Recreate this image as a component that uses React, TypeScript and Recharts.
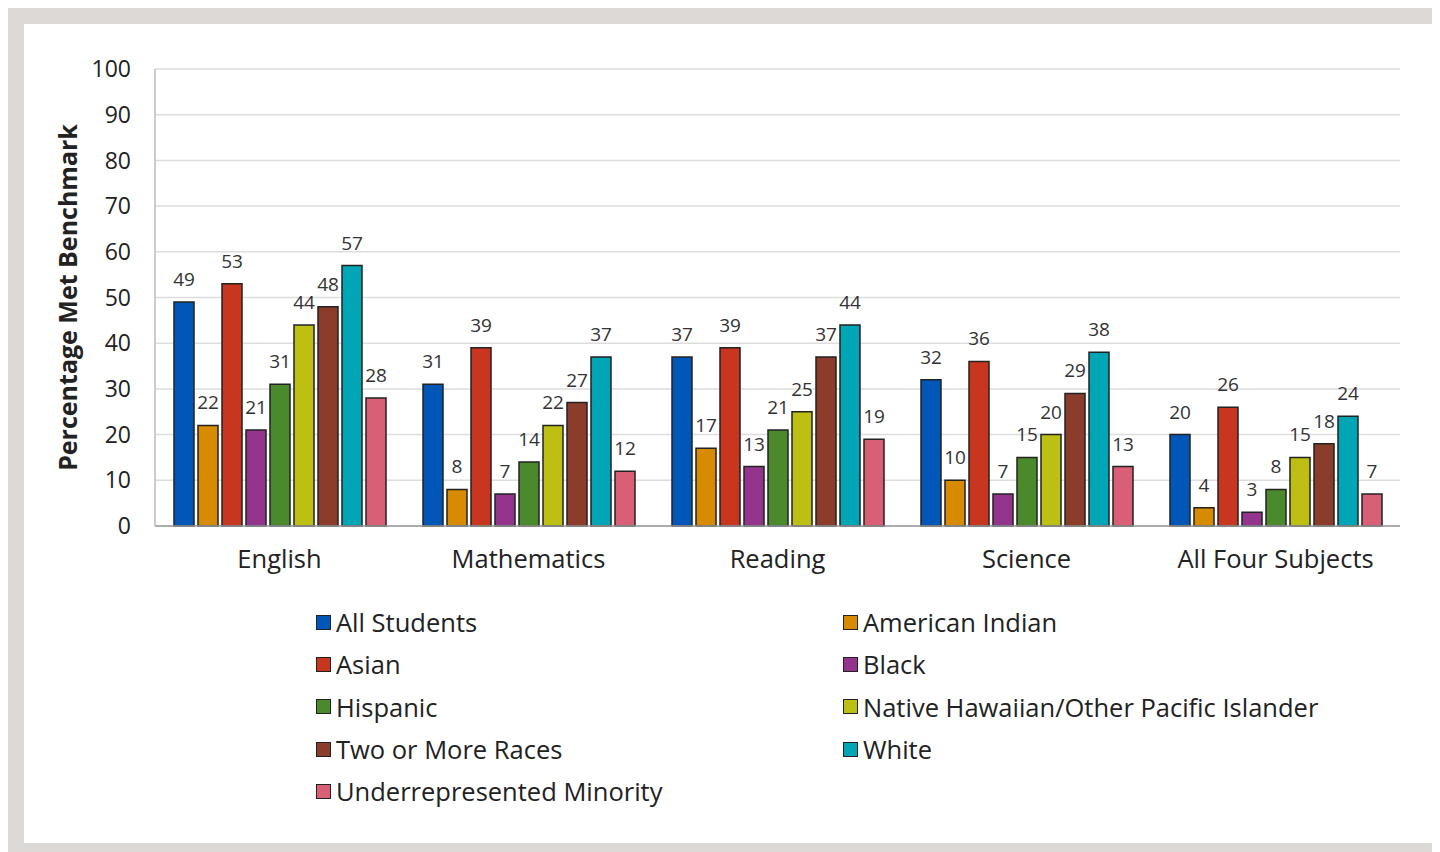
import React from "react";
import { BarChart, Bar, XAxis, YAxis, CartesianGrid, LabelList } from "recharts";

const categories = ["English", "Mathematics", "Reading", "Science", "All Four Subjects"];
const seriesNames = [
  "All Students",
  "American Indian",
  "Asian",
  "Black",
  "Hispanic",
  "Native Hawaiian/Other Pacific Islander",
  "Two or More Races",
  "White",
  "Underrepresented Minority",
];
const seriesColors = [
  "#0057b8",
  "#d68b00",
  "#c9361f",
  "#93358d",
  "#4b8a2c",
  "#bdbf13",
  "#8c3c2b",
  "#00a6b6",
  "#d95f76",
];
const allStudents = [49, 31, 37, 32, 20];
const americanIndian = [22, 8, 17, 10, 4];
const asian = [53, 39, 39, 36, 26];
const black = [21, 7, 13, 7, 3];
const hispanic = [31, 14, 21, 15, 8];
const nativeHawaiian = [44, 22, 25, 20, 15];
const twoOrMore = [48, 27, 37, 29, 18];
const white = [57, 37, 44, 38, 24];
const underrepresented = [28, 12, 19, 13, 7];
const yTicks = [0, 10, 20, 30, 40, 50, 60, 70, 80, 90, 100];

const seriesValues = [
  allStudents,
  americanIndian,
  asian,
  black,
  hispanic,
  nativeHawaiian,
  twoOrMore,
  white,
  underrepresented,
];

const data = categories.map((c, i) => {
  const row: Record<string, string | number> = { category: c };
  seriesValues.forEach((vals, s) => {
    row["s" + s] = vals[i];
  });
  return row;
});

const FONT = "'Open Sans', 'Noto Sans', sans-serif";

const YLabel = (props: any) => {
  const vb = props.viewBox || {};
  const cx = 43;
  const cy = (vb.y ?? 0) + (vb.height ?? 0) / 2;
  return (
    <text
      x={cx}
      y={cy}
      transform={`rotate(-90, ${cx}, ${cy})`}
      textAnchor="middle"
      dominantBaseline="central"
      fontSize={25}
      fontWeight={700}
      fill="#222"
      fontFamily={FONT}
    >
      Percentage Met Benchmark
    </text>
  );
};

export default function App() {
  return (
    <div
      style={{
        position: "relative",
        width: 1432,
        height: 844,
        background: "#dcd9d6",
        fontFamily: FONT,
      }}
    >
      <div
        style={{
          position: "absolute",
          left: 16,
          top: 16,
          width: 1408,
          height: 819,
          background: "#ffffff",
        }}
      >
        <BarChart
          width={1408}
          height={560}
          data={data}
          margin={{ top: 45, right: 32, left: 0, bottom: 8 }}
          barSize={20}
          barGap={4}
        >
          <CartesianGrid vertical={false} stroke="#dddddd" strokeWidth={1.5} />
          <XAxis
            dataKey="category"
            height={50}
            tickLine={false}
            tickSize={0}
            tickMargin={24}
            axisLine={{ stroke: "#999999", strokeWidth: 1.5 }}
            tick={{ fontSize: 25.5, fill: "#222", fontFamily: FONT }}
          />
          <YAxis
            width={131}
            domain={[0, 100]}
            ticks={yTicks}
            interval={0}
            tickLine={false}
            tickSize={0}
            tickMargin={24}
            axisLine={{ stroke: "#bbbbbb", strokeWidth: 1.5 }}
            tick={{ fontSize: 23, fill: "#222", fontFamily: FONT }}
            label={{ content: YLabel }}
          />
          {seriesNames.map((name, s) => (
            <Bar
              key={name}
              dataKey={"s" + s}
              name={name}
              fill={seriesColors[s]}
              stroke="#222"
              strokeWidth={1.5}
              isAnimationActive={false}
            >
              <LabelList
                dataKey={"s" + s}
                position="top"
                offset={16}
                fontSize={19}
                fill="#333"
                fontFamily={FONT}
              />
            </Bar>
          ))}
        </BarChart>
        <div
          style={{
            position: "absolute",
            left: 292,
            top: 577,
            display: "grid",
            gridTemplateColumns: "527px 527px",
            gridAutoRows: "42.3px",
          }}
        >
          {seriesNames.map((name, s) => (
            <div
              key={name}
              style={{ display: "flex", alignItems: "center", fontSize: 25.5, color: "#222", whiteSpace: "nowrap" }}
            >
              <span
                style={{
                  display: "inline-block",
                  width: 13,
                  height: 13,
                  background: seriesColors[s],
                  border: "1.5px solid #222",
                  marginRight: 5,
                }}
              />
              <span>{name}</span>
            </div>
          ))}
        </div>
      </div>
    </div>
  );
}
